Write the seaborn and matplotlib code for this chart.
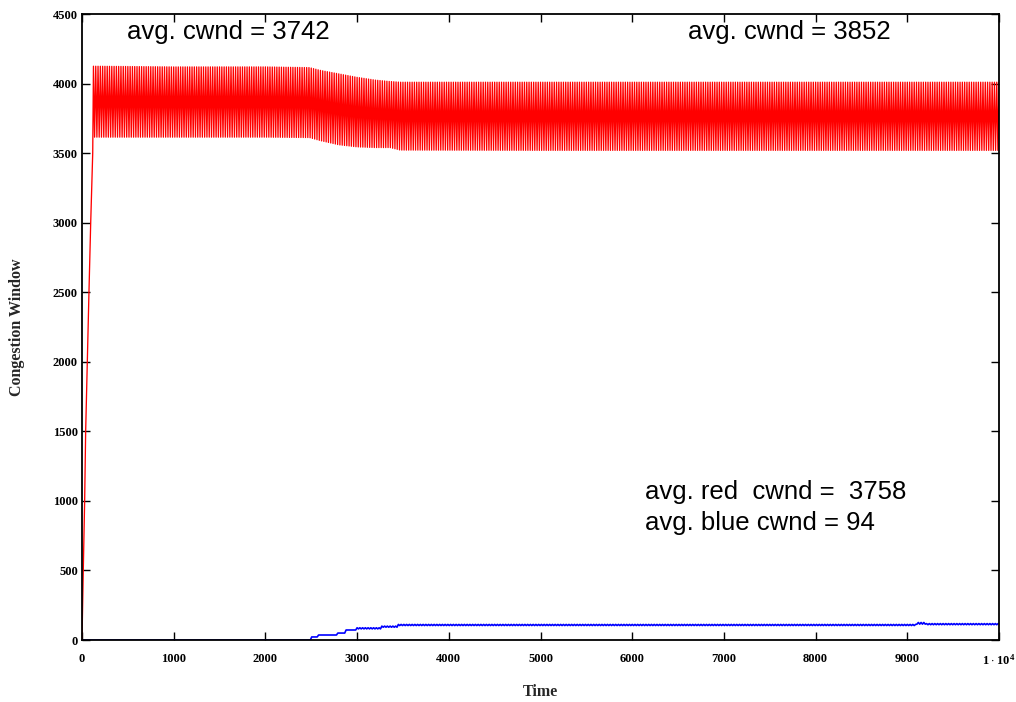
import numpy as np
import pandas as pd
import matplotlib
matplotlib.use("Agg")
import matplotlib.pyplot as plt
import seaborn as sns

# ---- red flow: slow-start ramp, then a dense oscillation band ----
red_rise_t = [0, 14, 29, 40, 58, 76, 95, 117, 125]
red_rise_v = [0, 500, 1000, 1500, 2000, 2500, 3000, 3500, 3700]

# upper / lower edge of the red oscillation band
red_band_t = [125, 1000, 2000, 2480, 2600, 2800, 3000, 3200, 3360, 3470, 5000, 7000, 10000]
red_band_hi = [4125, 4120, 4120, 4115, 4095, 4070, 4045, 4025, 4015, 4010, 4010, 4010, 4010]
red_band_lo = [3615, 3615, 3615, 3612, 3590, 3560, 3545, 3540, 3540, 3522, 3520, 3520, 3520]
RED_PERIOD = 25.0  # time units between successive peaks

# ---- blue flow: idle, then stepping up to a small window ----
blue_step_t = [0, 2494, 2578, 2777, 2868, 2995, 3268, 3446, 9100, 9200]
blue_step_lo = [0, 22, 36, 50, 72, 80, 92, 104, 114, 110]
blue_step_hi = [0, 22, 36, 50, 72, 88, 100, 112, 126, 118]
BLUE_PERIOD = 30.0

x_ticks = [0, 1000, 2000, 3000, 4000, 5000, 6000, 7000, 8000, 9000, 10000]
x_tick_labels = ["0", "1000", "2000", "3000", "4000", "5000", "6000", "7000",
                 "8000", "9000", r"$\mathbf{1\cdot10^{4}}$"]
y_ticks = [0, 500, 1000, 1500, 2000, 2500, 3000, 3500, 4000, 4500]

notes_top = [("avg. cwnd = 3742", 0.049), ("avg. cwnd = 3852", 0.661)]
notes_bottom = ["avg. red  cwnd =  3758", "avg. blue cwnd = 94"]


def zigzag(t0, t1, step, hi, lo):
    """Alternate between the upper and lower band edge every half period."""
    t = np.arange(t0, t1 + 1e-9, step / 2.0)
    up = np.arange(len(t)) % 2 == 0
    return t, np.where(up, hi(t), lo(t))


red_t, red_v = zigzag(red_band_t[0], red_band_t[-1], RED_PERIOD,
                      lambda t: np.interp(t, red_band_t, red_band_hi),
                      lambda t: np.interp(t, red_band_t, red_band_lo))
red_t = np.concatenate([red_rise_t[:-1], red_t])
red_v = np.concatenate([red_rise_v[:-1], red_v])


def step_level(levels):
    arr = np.asarray(levels, dtype=float)
    return lambda t: arr[np.searchsorted(blue_step_t, t, side="right") - 1]


blue_t, blue_v = zigzag(0, 10000, BLUE_PERIOD,
                        step_level(blue_step_hi), step_level(blue_step_lo))

df = pd.concat([
    pd.DataFrame({"Time": red_t, "cwnd": red_v, "flow": "red"}),
    pd.DataFrame({"Time": blue_t, "cwnd": blue_v, "flow": "blue"}),
], ignore_index=True)

sns.set_style("white")
plt.rcParams.update({
    "font.family": ["Liberation Serif", "DejaVu Serif"],
    "mathtext.fontset": "custom",
    "mathtext.rm": "Liberation Serif",
    "mathtext.bf": "Liberation Serif:bold",
    "axes.edgecolor": "black",
    "axes.linewidth": 1.3,
    "xtick.direction": "in",
    "ytick.direction": "in",
    "xtick.top": True,
    "ytick.right": True,
    "xtick.bottom": True,
    "ytick.left": True,
    "path.simplify": False,
})

fig = plt.figure(figsize=(10.16, 7.02), dpi=100)
ax = fig.add_axes([0.0807, 0.0883, 0.9026, 0.8917])

sns.lineplot(data=df[df.flow == "red"], x="Time", y="cwnd", color="#ff0000",
             linewidth=0.95, estimator=None, sort=False, ax=ax, legend=False)
sns.lineplot(data=df[df.flow == "blue"], x="Time", y="cwnd", color="#0000ff",
             linewidth=1.2, estimator=None, sort=False, ax=ax, legend=False)

ax.set_xlim(0, 10000)
ax.set_ylim(0, 4500)
ax.set_xticks(x_ticks)
ax.set_xticklabels(x_tick_labels)
ax.set_yticks(y_ticks)
ax.set_yticklabels([str(v) for v in y_ticks])
ax.tick_params(axis="both", which="major", length=6, width=1.0, color="black",
               labelsize=9, labelcolor="black")
ax.tick_params(axis="x", pad=9)
ax.tick_params(axis="y", pad=3)
for lab in ax.get_xticklabels() + ax.get_yticklabels():
    lab.set_fontweight("bold")

ax.set_xlabel("Time", fontsize=11.5, fontweight="bold", labelpad=12)
ax.set_ylabel("Congestion Window", fontsize=11.5, fontweight="bold", labelpad=20)

sans = ["Liberation Sans", "DejaVu Sans"]
for text, xpos in notes_top:
    ax.text(xpos, 0.971, text, transform=ax.transAxes, fontsize=18.5,
            family=sans, va="center", ha="left", color="black")
for text, ypos in zip(notes_bottom, [0.236, 0.187]):
    ax.text(0.614, ypos, text, transform=ax.transAxes, fontsize=18.5,
            family=sans, va="center", ha="left", color="black")

fig.savefig("out.png", dpi=100, facecolor="white")
